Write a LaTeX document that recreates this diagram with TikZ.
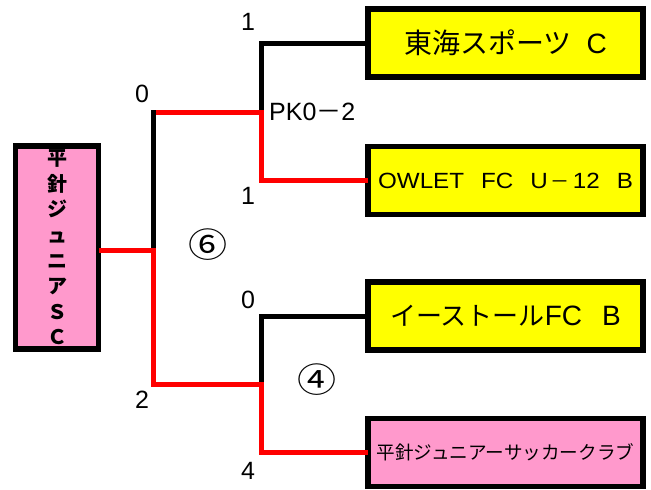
\documentclass[tikz,border=0pt]{standalone}
\usepackage{fontspec}
\setmainfont{Noto Sans CJK JP}
\newfontfamily\latfont{Liberation Sans}
\newfontfamily\latwide[FakeStretch=1.1]{Liberation Sans}
\newfontfamily\circfont[FakeStretch=1.15]{Noto Sans CJK JP}
\usetikzlibrary{shadows}
\definecolor{pinkbox}{RGB}{255,153,204}
\definecolor{yelbox}{RGB}{255,255,0}
\definecolor{redline}{RGB}{255,0,0}
\begin{document}
\begin{tikzpicture}[x=1pt,y=-1pt,
  boxbase/.style={draw=black, line width=5.5pt, inner sep=0pt, text=black,
    drop shadow={shadow xshift=1.5pt, shadow yshift=-1.5pt, fill=black, opacity=1}},
  team/.style={boxbase, minimum width=275pt, minimum height=68pt},
  winline/.style={draw=redline, line width=5pt, line cap=rect, line join=miter},
  loseline/.style={draw=black, line width=5pt, line cap=rect, line join=miter},
  score/.style={inner sep=0pt, font=\latfont\fontsize{25}{30}\selectfont},
  circ/.style={inner sep=0pt, font=\circfont\fontsize{34}{40}\selectfont}
]
\useasboundingbox (0,0) rectangle (651,490);

% team boxes
\node[team, fill=yelbox, font=\fontsize{28}{34}\selectfont] (b1) at (505.5,43)
  {東海スポーツ\hspace{15pt}{\latfont C}};
\node[team, fill=yelbox, font=\fontsize{22}{26}\selectfont] (b2) at (505.5,180.5)
  {{\latwide OWLET}\hspace{17pt}{\latwide FC}\hspace{17pt}{\latwide U}\kern3pt{\fontsize{19}{24}\selectfont －}\kern3pt{\latwide 12}\hspace{17pt}{\latwide B}};
\node[team, fill=yelbox, font=\fontsize{26}{34}\selectfont] (b3) at (505.5,316)
  {イーストール{\latfont\fontsize{28}{34}\selectfont FC}\hspace{20pt}{\latfont\fontsize{28}{34}\selectfont B}};
\node[team, fill=pinkbox, font=\fontsize{18.6}{24}\selectfont] (b4) at (505.5,452.5)
  {平針ジュニアーサッカークラブ};
\node[boxbase, fill=pinkbox, minimum width=83pt, minimum height=203pt,
      align=center, font=\bfseries\fontsize{20}{25.6}\selectfont] (L) at (57,247.5)
      {平\\針\\ジ\\ュ\\ニ\\ア\\Ｓ\\Ｃ};

% junctions
\coordinate (j1) at (261,112);
\coordinate (t0) at (153,112);
\coordinate (j0) at (153,250);
\coordinate (u0) at (153,384);
\coordinate (j2) at (261,384);

% connectors
\draw[loseline] (b1.west) -| (j1);
\draw[winline] (b2.west) -| (j1);
\draw[winline] (j1) -- (t0);
\draw[loseline] (t0) -- (j0);
\draw[winline] (j0) -- (u0) -- (j2);
\draw[winline] (L.east |- j0) -- (j0);
\draw[loseline] (b3.west) -| (j2);
\draw[winline] (b4.west) -| (j2);

% scores
\node[score] (s1) at (248,22) {1};
\node[score] (s2) at (142,94) {0};
\node[score, anchor=west] (pk) at (269,112) {PK0{\rmfamily －}2};
\node[score] (s3) at (248,196) {1};
\node[score] (s4) at (248,300) {0};
\node[score] (s5) at (142,400) {2};
\node[score] (s6) at (248,471) {4};
\node[circ] (m6) at (208,245) {⑥};
\node[circ] (m4) at (317,380) {④};
\end{tikzpicture}
\end{document}
